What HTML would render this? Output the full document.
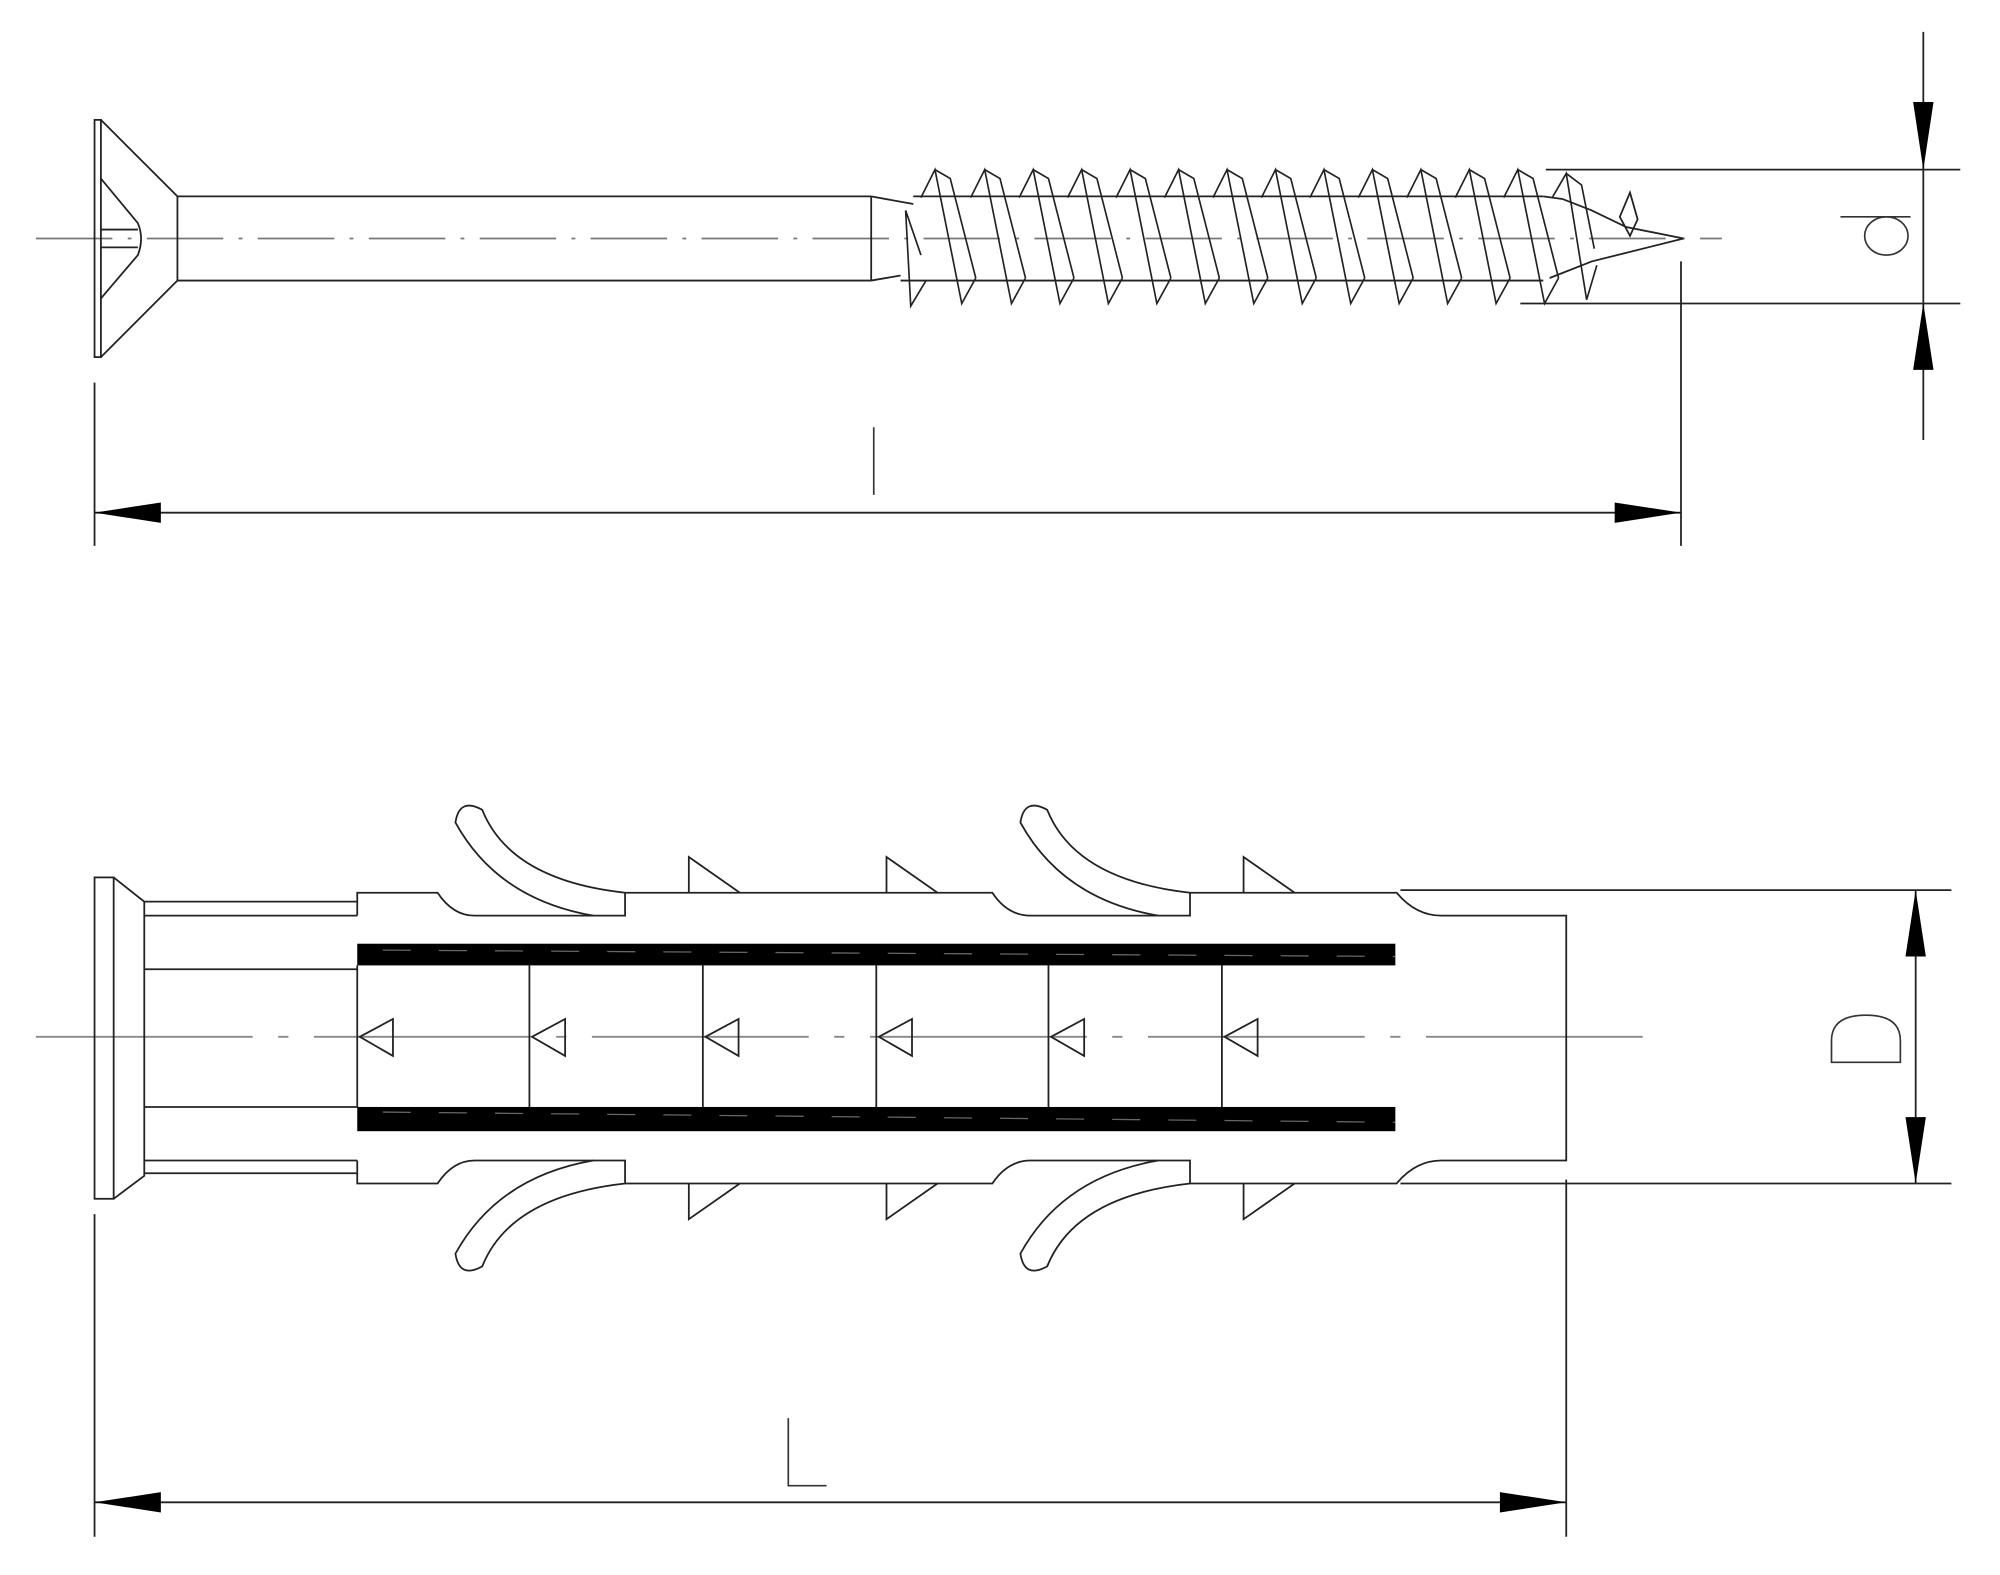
<!DOCTYPE html>
<html><head><style>html,body{margin:0;padding:0;background:#fff}svg{display:block}</style></head><body>
<svg width="2000" height="1575" viewBox="0 0 1568 1235" xmlns="http://www.w3.org/2000/svg" font-family="Liberation Sans, sans-serif">
<g fill="none" stroke="#222" stroke-width="1.4">
<line x1="28" y1="187" x2="1350" y2="187" stroke="#777" stroke-dasharray="60,12,3,12"/>
<rect x="74" y="94" width="5" height="186"/>
<path d="M79 94 L139 154 L139 220 L79 280"/>
<path d="M79 140 L108 175 Q113 187 108 200 L79 234"/>
<line x1="79" y1="180" x2="108" y2="180"/><line x1="79" y1="194" x2="108" y2="194"/>
<line x1="139" y1="154" x2="683" y2="154"/><line x1="139" y1="220" x2="683" y2="220"/>
<line x1="683" y1="154" x2="683" y2="220"/>
<path d="M683 154 L716 160 M683 220 L706 216"/>
<line x1="716" y1="154" x2="1210" y2="154"/><line x1="706" y1="220" x2="1210" y2="220"/>
<path d="M1210 154 L1225 156 L1248 165 L1275 178 L1320 187 L1248 205 L1215 218"/>
<path d="M1270 170 L1278 151 L1284 172 L1278 185 Z"/>
<path stroke-width="1.3" d="
M722 155 L733 133 L754 238 L765 218 M733 133 L745 140 L765 218
M761 155 L772 133 L793 238 L804 218 M772 133 L784 140 L804 218
M799 155 L810 133 L831 238 L842 218 M810 133 L822 140 L842 218
M837 155 L848 133 L869 238 L880 218 M848 133 L860 140 L880 218
M875 155 L886 133 L907 238 L918 218 M886 133 L898 140 L918 218
M913 155 L924 133 L945 238 L956 218 M924 133 L936 140 L956 218
M951 155 L962 133 L983 238 L994 218 M962 133 L974 140 L994 218
M989 155 L1000 133 L1021 238 L1032 218 M1000 133 L1012 140 L1032 218
M1027 155 L1038 133 L1059 238 L1070 218 M1038 133 L1050 140 L1070 218
M1065 155 L1076 133 L1097 238 L1108 218 M1076 133 L1088 140 L1108 218
M1103 155 L1114 133 L1135 238 L1146 218 M1114 133 L1126 140 L1146 218
M1141 155 L1152 133 L1173 238 L1184 218 M1152 133 L1164 140 L1184 218
M1179 155 L1190 133 L1211 238 L1222 218 M1190 133 L1202 140 L1222 218
M1217 155 L1228 136 L1244 235 L1252 208 M1228 136 L1240 145 L1250 195
M710 165 L714 240 L726 220 M710 165 L722 200"/>
<line x1="74" y1="300" x2="74" y2="428"/>
<line x1="1318" y1="205" x2="1318" y2="428"/>
<line x1="74" y1="402" x2="1318" y2="402"/>
<line x1="1212" y1="133" x2="1537" y2="133"/>
<line x1="1192" y1="238" x2="1537" y2="238"/>
<line x1="1508" y1="25" x2="1508" y2="345"/>
<line x1="28" y1="813" x2="1295" y2="813" stroke="#888" stroke-dasharray="170,20,8,20"/>
<rect x="74" y="688" width="15" height="252"/>
<path d="M89 688 L113 707 L113 922 L89 940"/>
<path d="M113 707 L280 707 M113 718 L280 718 M113 910 L280 910 M113 920 L280 920"/>
<path d="M113 760 L280 760 M113 868 L280 868"/>
<path d="M280 718 L280 700 L343 700 Q355 718 372 718 L490 718 L490 700"/>
<path d="M490 700 L778 700 Q790 718 808 718 L933 718 L933 700 L1095 700 Q1110 718 1130 718 L1228 718 L1228 910 L1130 910 Q1110 910 1095 928 L975 928 L933 928 L933 910 L808 910 Q790 910 778 928 L490 928 L490 910 L372 910 Q355 910 343 928 L280 928 L280 910"/>
<path d="M465 718 Q390 705 357 645 Q360 625 378 635 Q400 690 490 700"/>
<path d="M908 718 Q833 705 800 645 Q803 625 821 635 Q843 690 933 700"/>
<path d="M465 910 Q390 923 357 983 Q360 1003 378 993 Q400 938 490 928"/>
<path d="M908 910 Q833 923 800 983 Q803 1003 821 993 Q843 938 933 928"/>
<path d="M540 700 L540 672 L580 700 M695 700 L695 672 L735 700 M975 700 L975 672 L1015 700"/>
<path d="M540 928 L540 956 L580 928 M695 928 L695 956 L735 928 M975 928 L975 956 L1015 928"/>
<path d="M280 757 L280 868 M415 757 L415 868 M551 757 L551 868 M687 757 L687 868 M822 757 L822 868 M958 757 L958 868"/>
<path d="M282 813 L308 799 L308 828 Z M417 813 L443 799 L443 828 Z M553 813 L579 799 L579 828 Z M689 813 L715 799 L715 828 Z M824 813 L850 799 L850 828 Z M960 813 L986 799 L986 828 Z"/>
<line x1="1098" y1="698" x2="1530" y2="698"/>
<line x1="1098" y1="928" x2="1530" y2="928"/>
<line x1="1502" y1="698" x2="1502" y2="928"/>
<line x1="1228" y1="925" x2="1228" y2="1205"/>
<line x1="74" y1="952" x2="74" y2="1205"/>
<line x1="74" y1="1178" x2="1228" y2="1178"/>
</g>
<rect x="280" y="740" width="814" height="17" fill="#000"/>
<rect x="280" y="868" width="814" height="19" fill="#000"/>
<g stroke="#666" stroke-width="1" stroke-dasharray="22,22"><line x1="300" y1="745" x2="1094" y2="750"/><line x1="300" y1="872" x2="1094" y2="880"/></g>
<g fill="#000">
<path d="M74 402 L126 394 L126 410 Z"/>
<path d="M1318 402 L1266 394 L1266 410 Z"/>
<path d="M1508 133 L1500 80 L1516 80 Z"/>
<path d="M1508 238 L1500 290 L1516 290 Z"/>
<path d="M1502 698 L1494 750 L1510 750 Z"/>
<path d="M1502 928 L1494 876 L1510 876 Z"/>
<path d="M74 1178 L126 1170 L126 1186 Z"/>
<path d="M1228 1178 L1176 1170 L1176 1186 Z"/>
</g>
<g stroke="#333" stroke-width="1.3" fill="none">
<line x1="685" y1="335" x2="685" y2="388"/>
<path d="M618 1112 L618 1165 L648 1165"/>
<path d="M1436 833 L1436 816 Q1436 796 1463 796 Q1490 796 1490 816 L1490 833 Z"/>
<line x1="1443" y1="170" x2="1498" y2="170"/>
<ellipse cx="1479" cy="185" rx="17" ry="15"/>
</g>
</svg>
</body></html>
